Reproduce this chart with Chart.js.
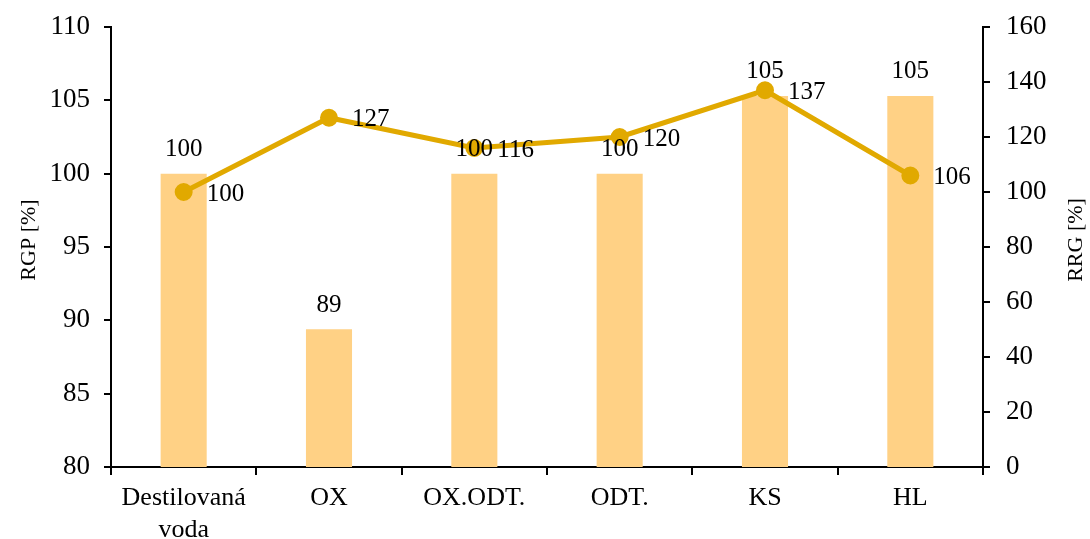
<!DOCTYPE html>
<html>
<head>
<meta charset="utf-8">
<script src="https://cdn.jsdelivr.net/npm/chart.js@4"></script>
<style>
  html, body { margin: 0; padding: 0; background: #fff; }
  #wrap { width: 1090px; height: 539px; position: relative; }
</style>
</head>
<body>
<div id="wrap"><canvas id="rgpChart"></canvas></div>
<script>
// data
const categories = [['Destilovaná', 'voda'], 'OX', 'OX.ODT.', 'ODT.', 'KS', 'HL'];
const rgpValues = [100, 89.4, 100, 100, 105.3, 105.3];   // bars, left axis
const rrgValues = [100, 127, 116, 120, 137, 106];         // line, right axis
const rgpTicks = { min: 80, max: 110, step: 5 };
const rrgTicks = { min: 0, max: 160, step: 20 };

const FONT = 'Liberation Serif, Times New Roman, serif';
const BAR_COLOR = '#FFD185';
const LINE_COLOR = '#E1A900';

// value labels + rotated axis titles (both titles read bottom-to-top)
const labelPlugin = {
    id: 'valueLabels',
    afterDatasetsDraw(chart) {
        const ctx = chart.ctx;
        ctx.save();
        ctx.fillStyle = '#000';
        ctx.font = '25px ' + FONT;
        ctx.textBaseline = 'middle';

        const bars = chart.getDatasetMeta(1);
        ctx.textAlign = 'center';
        bars.data.forEach((el, i) => {
            ctx.fillText(Math.round(rgpValues[i]), el.x, el.y - 24);
        });

        const line = chart.getDatasetMeta(0);
        ctx.textAlign = 'left';
        line.data.forEach((el, i) => {
            ctx.fillText(rrgValues[i], el.x + 23, el.y + 2);
        });

        ctx.font = '22px ' + FONT;
        ctx.textAlign = 'center';
        const midY = 240;
        [[29, 'RGP [%]'], [1076, 'RRG [%]']].forEach(([x, txt]) => {
            ctx.save();
            ctx.translate(x, midY);
            ctx.rotate(-Math.PI / 2);
            ctx.fillText(txt, 0, 0);
            ctx.restore();
        });
        ctx.restore();
    }
};

const axisGrid = {
    display: true,
    drawOnChartArea: false,
    drawTicks: true,
    tickLength: 7,
    color: '#000',
    lineWidth: 2
};

// fixed width, and don't let the top tick label push the plot area down
function fitSide(width) {
    return function (scale) {
        scale.width = width;
        scale.paddingTop = 2;
    };
}

new Chart(document.getElementById('rgpChart').getContext('2d'), {
    data: {
        labels: categories,
        datasets: [
            {
                type: 'line',
                label: 'RRG',
                data: rrgValues,
                yAxisID: 'y1',
                borderColor: LINE_COLOR,
                backgroundColor: LINE_COLOR,
                borderWidth: 5,
                pointRadius: 6.5,
                pointHoverRadius: 6.5,
                tension: 0,
                order: 1
            },
            {
                type: 'bar',
                label: 'RGP',
                data: rgpValues,
                yAxisID: 'y',
                backgroundColor: BAR_COLOR,
                categoryPercentage: 1,
                barPercentage: 0.317,
                order: 2
            }
        ]
    },
    options: {
        responsive: true,
        maintainAspectRatio: false,
        animation: false,
        events: [],
        layout: { padding: { top: 27, left: 0, right: 0, bottom: 0 } },
        plugins: {
            legend: { display: false },
            tooltip: { enabled: false }
        },
        scales: {
            x: {
                offset: true,
                grid: Object.assign({}, axisGrid, { offset: true, tickLength: 8 }),
                border: { display: true, color: '#000', width: 2 },
                ticks: { color: '#000', font: { family: FONT, size: 26 }, padding: 8, maxRotation: 0 },
                afterFit(scale) { scale.height = 72; }
            },
            y: {
                position: 'left',
                min: rgpTicks.min,
                max: rgpTicks.max,
                grid: axisGrid,
                border: { display: true, color: '#000', width: 2 },
                ticks: { stepSize: rgpTicks.step, color: '#000', font: { family: FONT, size: 27 }, padding: 14 },
                afterFit: fitSide(111)
            },
            y1: {
                position: 'right',
                min: rrgTicks.min,
                max: rrgTicks.max,
                grid: axisGrid,
                border: { display: true, color: '#000', width: 2 },
                ticks: { stepSize: rrgTicks.step, color: '#000', font: { family: FONT, size: 27 }, padding: 16 },
                afterFit: fitSide(107)
            }
        }
    },
    plugins: [labelPlugin]
});
</script>
</body>
</html>
